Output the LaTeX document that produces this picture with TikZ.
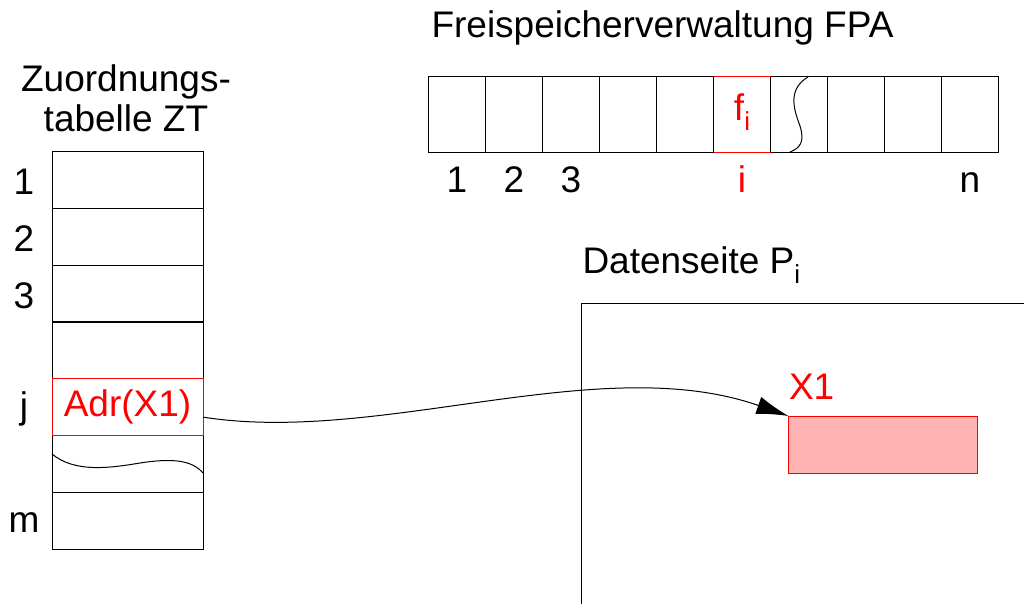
\documentclass[tikz,border=0pt]{standalone}
\usepackage{fontspec}
\setmainfont{Liberation Sans}
\usepackage{tikz}
\usetikzlibrary{arrows.meta,positioning}

\definecolor{boxred}{RGB}{255,179,179}

\newcommand{\sub}[1]{\raisebox{-0.28em}{\fontsize{26}{26}\selectfont #1}}

\tikzset{
    cell/.style={draw,minimum width=57pt,minimum height=76pt,inner sep=0pt,outer sep=0pt},
    row/.style={draw,minimum width=151pt,minimum height=57pt,inner sep=0pt,outer sep=0pt},
    idx/.style={anchor=base,inner sep=0pt}
}

\begin{document}
\begin{tikzpicture}[x=1pt,y=-1pt,line width=1pt,font=\fontsize{37}{35}\selectfont]
    \useasboundingbox (0,0) rectangle (1024,603);
    \clip (0,0) rectangle (1024,603);

    \node[anchor=base west,inner sep=0pt] (fpatitle) at (431,37) {Freispeicherverwaltung FPA};
    \foreach \i in {1,...,10}
        \node[cell] (fpa\i) at (400+57*\i,114) {};
    \draw[red] (fpa6.north west) -- (fpa6.north east);
    \draw[red] (fpa6.south west) -- (fpa6.south east);
    \node[red,inner sep=0pt] (fi) at (742,112) {f\sub{i}};
    \draw (808,77) .. controls (786,90) and (795,112) .. (800,126)
        .. controls (805,142) and (800,148) .. (790,152);
    \node[idx] (n1) at (457,192) {1};
    \node[idx] (n2) at (514,192) {2};
    \node[idx] (n3) at (571,192) {3};
    \node[idx,red] (ni) at (742,192) {i};
    \node[idx] (nn) at (970,192) {n};

    \node[align=center,inner sep=0pt,font=\fontsize{37}{40}\selectfont] (zttitle) at (126,98) {Zuordnungs-\\tabelle ZT};
    \foreach \i in {1,...,7}
        \node[row] (zt\i) at (127.5,151.5+56.8*\i-28.4) {};
    \node[row,red,text=red] (zt5) at (127.5,151.5+56.8*5-28.4) {Adr(X1)};
    \draw (52,454) .. controls (75,473) and (110,468) .. (140,463)
        .. controls (172,458) and (192,460) .. (203,473);
    \foreach \i/\t in {1/1,2/2,3/3,5/j,7/m}
        \node (lab\i) at ([xshift=-28pt,yshift=-2pt]zt\i.west) {\t};

    \node[anchor=base west,inner sep=0pt] (dstitle) at (582,273) {Datenseite P\sub{i}};
    \draw (1030,303) -- (581,303) -- (581,610);
    \node[draw=red,fill=boxred,minimum width=189pt,minimum height=57pt,inner sep=0pt,outer sep=0pt,
        label={[anchor=south west,red,inner sep=0pt,yshift=16pt]north west:X1}] (x1) at (883,444.5) {};

    \draw[-{Latex[length=32pt,width=18pt]}] ([yshift=-10pt]zt5.east) .. controls (380,445) and (600,350) .. (x1.north west);
\end{tikzpicture}
\end{document}
